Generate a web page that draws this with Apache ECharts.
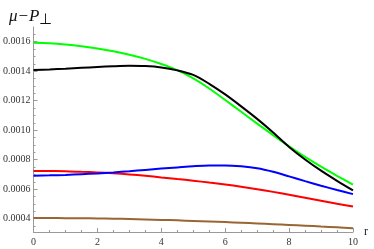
<!DOCTYPE html>
<html><head><meta charset="utf-8">
<script src="https://cdn.jsdelivr.net/npm/echarts@6/dist/echarts.min.js"></script>
<style>html,body{margin:0;padding:0;background:#fff}#c{width:374px;height:249px}</style>
</head><body><div id="c"></div>
<script>
const rValues = [0,0.5,1,1.5,2,2.5,3,3.5,4,4.5,5,5.5,6,6.5,7,7.5,8,8.5,9,9.5,10];
const green = [0.001593,0.001590,0.001582,0.001570,0.001554,0.001535,0.001512,0.001484,0.001449,0.001407,0.001351,0.001283,0.001205,0.001125,0.001045,0.000967,0.000891,0.000819,0.000753,0.000691,0.000631];
const black = [0.001408,0.001412,0.001417,0.001423,0.001429,0.001434,0.001437,0.001435,0.001426,0.001406,0.001375,0.001315,0.001243,0.001162,0.001077,0.000985,0.000887,0.000802,0.000726,0.000657,0.000592];
const blue  = [0.000692,0.000694,0.000697,0.000702,0.000707,0.000714,0.000722,0.000731,0.000740,0.000748,0.000756,0.000761,0.000761,0.000755,0.000742,0.000718,0.000687,0.000655,0.000624,0.000595,0.000567];
const red   = [0.000724,0.000723,0.000722,0.000718,0.000714,0.000708,0.000700,0.000691,0.000680,0.000669,0.000658,0.000645,0.000632,0.000617,0.000600,0.000582,0.000562,0.000542,0.000522,0.000502,0.000483];
const brown = [0.000405,0.000405,0.000404,0.000403,0.000402,0.000400,0.000398,0.000395,0.000392,0.000389,0.000385,0.000381,0.000377,0.000373,0.000368,0.000363,0.000358,0.000353,0.000347,0.000342,0.000336];
const yTickLabels = [0.0004,0.0006,0.0008,0.0010,0.0012,0.0014,0.0016];
const xTickLabels = [0,2,4,6,8,10];
const yMinorTicks = [0.00035,0.00045,0.0005,0.00055,0.00065,0.0007,0.00075,0.00085,0.0009,0.00095,0.00105,0.0011,0.00115,0.00125,0.0013,0.00135,0.00145,0.0015,0.00155,0.00165];

const pairs = arr => rValues.map((r,i)=>[r,arr[i]]);
const font = 'Liberation Serif';
const axisGray = '#999';
const mk = (arr,color)=>({type:'line',data:pairs(arr),smooth:0.3,showSymbol:false,
  lineStyle:{color:color,width:2},itemStyle:{color:color},z:3});

const chart = echarts.init(document.getElementById('c'),null,{renderer:'canvas'});
chart.setOption({
  animation:false,
  title:{left:4,top:1,text:'{a|μ−P}{b|⊥}',textStyle:{fontWeight:'normal',rich:{
    a:{fontFamily:font,fontStyle:'italic',fontWeight:'normal',fontSize:17,color:'#111'},
    b:{fontFamily:font,fontWeight:'normal',fontSize:15,color:'#111',padding:[7,0,0,0]}}}},
  grid:{left:29,right:21,top:27,bottom:17,containLabel:false},
  xAxis:{type:'value',min:0,max:10,interval:2,
    name:'r',nameLocation:'end',nameGap:9,
    nameTextStyle:{fontFamily:font,fontSize:12,color:'#222',verticalAlign:'middle',padding:[4,0,0,0]},
    axisLine:{lineStyle:{color:axisGray,width:1}},
    axisTick:{inside:true,length:4,lineStyle:{color:axisGray}},
    minorTick:{show:true,splitNumber:4,length:2,lineStyle:{color:axisGray}},
    axisLabel:{fontFamily:font,fontSize:10,color:'#333',margin:5,customValues:xTickLabels},
    splitLine:{show:false}},
  yAxis:[{type:'value',min:0.00031,max:0.0017,
    axisLine:{show:true,lineStyle:{color:axisGray,width:1}},
    axisTick:{inside:true,length:4,lineStyle:{color:axisGray},customValues:yTickLabels},
    axisLabel:{fontFamily:font,fontSize:10,color:'#333',margin:3,customValues:yTickLabels,
      formatter:v=>v.toFixed(4)},
    splitLine:{show:false}},
   {type:'value',min:0.00031,max:0.0017,position:'left',offset:0,
    axisLine:{show:false},
    axisTick:{show:true,inside:true,length:2,lineStyle:{color:axisGray},customValues:yMinorTicks},
    axisLabel:{show:false},splitLine:{show:false}}],
  series:[mk(brown,'#996633'),mk(red,'#ff0000'),mk(blue,'#0000ff'),mk(green,'#00ff00'),mk(black,'#000000')]
});
</script></body></html>
